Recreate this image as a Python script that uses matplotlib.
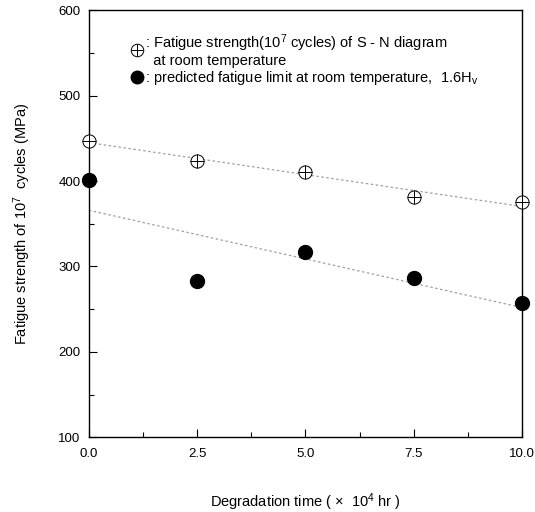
import numpy as np
import matplotlib
matplotlib.use("Agg")
import matplotlib.pyplot as plt
from matplotlib.lines import Line2D
from matplotlib.legend_handler import HandlerTuple
from matplotlib.ticker import MultipleLocator

plt.rcParams["font.family"] = ["Liberation Sans", "DejaVu Sans"]
plt.rcParams["mathtext.default"] = "regular"

# degradation time (x 10^4 hr)
time = [0.0, 2.5, 5.0, 7.5, 10.0]
# fatigue strength at 10^7 cycles from S-N diagram (MPa)
sn_strength = [447, 424, 411, 381, 375]
# predicted fatigue limit, 1.6 Hv (MPa)
predicted = [401, 283, 317, 286, 257]
xtick_vals = [0.0, 2.5, 5.0, 7.5, 10.0]
xtick_labels = ["0.0", "2.5", "5.0", "7.5", "10.0"]
ytick_vals = [100, 200, 300, 400, 500, 600]

fig = plt.figure(figsize=(5.35, 5.12), dpi=100)
ax = fig.add_axes([0.166, 0.146, 0.810, 0.834])

# least-squares trend lines through each series
t = np.array(time)
xs = np.array([0.0, 10.0])
for ys in (sn_strength, predicted):
    k, b = np.polyfit(t, np.array(ys), 1)
    ax.plot(xs, k * xs + b, ls=(0, (2, 2)), lw=0.9, color="#a0a0a0", zorder=1)

ax.plot(time, sn_strength, ls="none", marker="o", ms=9.5, mfc="white",
        mec="black", mew=0.7, zorder=3, clip_on=False)
ax.plot(time, sn_strength, ls="none", marker="+", ms=9.5, mec="black",
        mew=0.7, zorder=4, clip_on=False)
ax.plot(time, predicted, ls="none", marker="o", ms=10, mfc="black",
        mec="black", zorder=3, clip_on=False)

ax.set_xlim(0, 10)
ax.set_ylim(100, 600)
ax.set_xticks(xtick_vals)
ax.set_xticklabels(xtick_labels)
ax.set_yticks(ytick_vals)
ax.xaxis.set_minor_locator(MultipleLocator(1.25))
ax.yaxis.set_minor_locator(MultipleLocator(50))
ax.tick_params(which="both", direction="in", top=False, right=False,
               labelsize=9.5, width=0.8)
ax.tick_params(axis="x", pad=8)
ax.tick_params(axis="y", pad=6)
ax.tick_params(which="major", length=6)
ax.tick_params(which="minor", length=3.5)
for sp in ax.spines.values():
    sp.set_linewidth(1.0)

ax.set_xlabel("Degradation time ( \u00d7  10$^4$ hr )", fontsize=10.5, labelpad=22)
ax.set_ylabel("Fatigue strength of 10$^7$  cycles (MPa)", fontsize=10.5, labelpad=18)

h_open = (Line2D([], [], ls="none", marker="o", ms=9, mfc="white", mec="black", mew=0.7),
          Line2D([], [], ls="none", marker="+", ms=9, mec="black", mew=0.7))
h_fill = Line2D([], [], ls="none", marker="o", ms=9, mfc="black", mec="black")
leg = ax.legend([h_open, h_fill],
                [": Fatigue strength(10$^7$ cycles) of S - N diagram\n  at room temperature",
                 ": predicted fatigue limit at room temperature,  1.6H$_v$"],
                handler_map={tuple: HandlerTuple(ndivide=1)},
                loc="upper left", bbox_to_anchor=(0.085, 0.962), frameon=False,
                fontsize=10.5, handlelength=0.8, handletextpad=0.15,
                labelspacing=0.05, borderaxespad=0)
for txt in leg.get_texts():
    txt.set_linespacing(1.0)

fig.savefig("out.png", dpi=100)
